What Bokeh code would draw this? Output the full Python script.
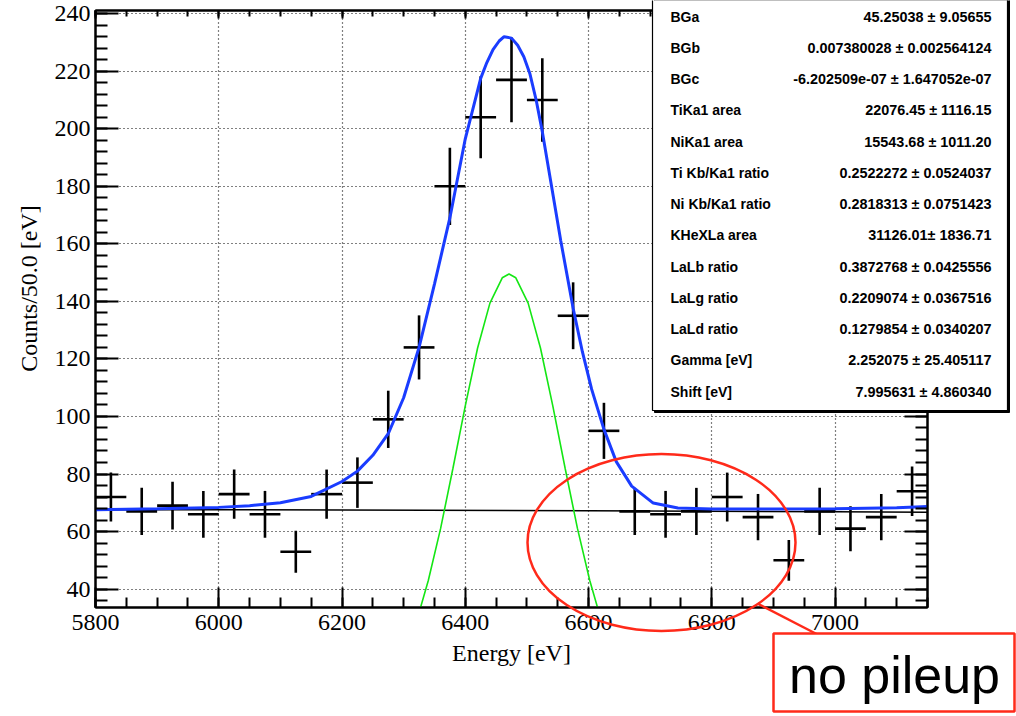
import numpy as np
from bokeh.plotting import figure
from bokeh.models import (Range1d, LinearAxis, SingleIntervalTicker, ColumnDataSource,
                          GridBox, CustomJSTickFormatter)
from bokeh.core.properties import value
from bokeh.embed import file_html
from bokeh.resources import INLINE

# ---------------- data ----------------
bin_centers = [5825, 5875, 5925, 5975, 6025, 6075, 6125, 6175, 6225, 6275, 6325, 6375, 6425,
               6475, 6525, 6575, 6625, 6675, 6725, 6775, 6825, 6875, 6925, 6975, 7025, 7075, 7125]
counts = [72, 67, 69, 66, 73, 66, 53, 73, 77, 99, 124, 180, 204,
          217, 210, 135, 95, 67, 66, 67, 72, 65, 50, 67, 61, 65, 74]
bin_width = 50

# total fit (blue)
fit_x = [5800, 5900, 6000, 6050, 6100, 6150, 6200, 6225, 6250, 6275, 6300, 6325, 6350, 6375,
         6400, 6425, 6435, 6445, 6455, 6463, 6475, 6485, 6495, 6505, 6515, 6525, 6540, 6555,
         6575, 6590, 6605, 6625, 6645, 6670, 6705, 6745, 6800, 6900, 7000, 7100, 7150]
fit_y = [67.6, 67.9, 68.4, 69.0, 70.0, 72.2, 77.4, 81.0, 86.5, 94.0, 106.5, 124.0, 146.0, 169.0,
         196.5, 217.5, 223.0, 227.5, 230.5, 232.0, 231.5, 229.0, 225.0, 219.0, 210.0, 199.0, 180.0, 161.0,
         137.6, 122.5, 109.5, 95.5, 84.3, 75.8, 69.9, 68.2, 67.8, 67.8, 67.9, 68.3, 68.7]

# background (black)
bg_x = [5800, 6200, 6600, 7000, 7150]
bg_y = [67.6, 67.5, 67.2, 66.9, 66.7]

# single peak component (green)
peak_x = [6325, 6340, 6360, 6380, 6400, 6420, 6440, 6460, 6471, 6482, 6502, 6522, 6542, 6562, 6582, 6602, 6617]
peak_y = [31.8, 43.0, 61.1, 82.0, 103.7, 123.8, 139.4, 148.2, 149.5, 148.2, 139.4, 123.8, 103.7, 82.0, 61.1, 43.0, 31.8]

stat_names = ["BGa", "BGb", "BGc", "TiKa1 area", "NiKa1 area", "Ti Kb/Ka1 ratio",
              "Ni Kb/Ka1 ratio", "KHeXLa area", "LaLb ratio", "LaLg ratio", "LaLd ratio",
              "Gamma [eV]", "Shift [eV]"]
stat_values = ["45.25038 \u00b1 9.05655", "0.007380028 \u00b1 0.002564124",
               "-6.202509e-07 \u00b1 1.647052e-07", "22076.45 \u00b1 1116.15",
               "15543.68 \u00b1 1011.20", "0.2522272 \u00b1 0.0524037",
               "0.2818313 \u00b1 0.0751423", "31126.01\u00b1 1836.71",
               "0.3872768 \u00b1 0.0425556", "0.2209074 \u00b1 0.0367516",
               "0.1279854 \u00b1 0.0340207", "2.252075 \u00b1 25.405117",
               "7.995631 \u00b1 4.860340"]

W, H = 1016, 716
SERIF = "Liberation Serif"
SANS = "Liberation Sans"
RED = "#ff2a1a"

# ---------------- main figure ----------------
p = figure(width=W, height=H, x_range=Range1d(5800, 7150), y_range=Range1d(33.6, 241.1),
           output_backend="svg", toolbar_location=None,
           min_border_left=95, min_border_right=89, min_border_top=10, min_border_bottom=109)
p.frame_align = False
p.background_fill_color = "white"
p.border_fill_color = "white"
p.outline_line_color = "black"
p.outline_line_width = 2

xt = SingleIntervalTicker(interval=200, num_minor_ticks=4)
yt = SingleIntervalTicker(interval=20, num_minor_ticks=5)
p.xaxis.ticker = xt
p.yaxis.ticker = yt
p.xgrid.ticker = xt
p.ygrid.ticker = yt
for g in (p.xgrid, p.ygrid):
    g.grid_line_color = "black"
    g.grid_line_dash = "1 3"
    g.grid_line_width = 1.2

for ax in (p.xaxis[0], p.yaxis[0]):
    ax.axis_line_width = 2
    ax.major_tick_out = 0
    ax.minor_tick_out = 0
    ax.major_tick_line_width = 2
    ax.minor_tick_line_width = 2
    ax.major_label_text_font = SERIF
    ax.major_label_text_font_size = "24px"
    ax.major_label_text_color = "black"
p.xaxis.major_tick_in = 20
p.xaxis.minor_tick_in = 10
p.yaxis.major_tick_in = 23
p.yaxis.minor_tick_in = 12
p.xaxis.major_label_standoff = 7
p.yaxis.major_label_standoff = 5
p.xaxis.axis_label = "Energy [eV]"
p.xaxis.axis_label_text_font = SERIF
p.xaxis.axis_label_text_font_size = "24px"
p.xaxis.axis_label_text_font_style = "normal"
p.xaxis.axis_label_text_color = "black"
p.xaxis.axis_label_standoff = 7

blank = CustomJSTickFormatter(code="return ''")
top = LinearAxis(ticker=SingleIntervalTicker(interval=200, num_minor_ticks=4), formatter=blank,
                 major_label_standoff=0,
                 major_tick_in=8, major_tick_out=0, minor_tick_in=6, minor_tick_out=0,
                 axis_line_width=2, major_tick_line_width=2, minor_tick_line_width=2)
p.add_layout(top, "above")
right = LinearAxis(ticker=SingleIntervalTicker(interval=20, num_minor_ticks=5), formatter=blank,
                   major_label_standoff=0,
                   major_tick_in=23, major_tick_out=0, minor_tick_in=12, minor_tick_out=0,
                   axis_line_width=2, major_tick_line_width=2, minor_tick_line_width=2)
p.add_layout(right, "right")

c = np.array(counts, dtype=float)
xc = np.array(bin_centers, dtype=float)
err = np.sqrt(c)
src = ColumnDataSource(dict(x=xc, y=c, lo=c - err, hi=c + err,
                            left=xc - bin_width / 2, right=xc + bin_width / 2))
p.segment(x0="x", y0="lo", x1="x", y1="hi", source=src, line_color="black", line_width=2.6)
p.segment(x0="left", y0="y", x1="right", y1="y", source=src, line_color="black", line_width=2.6)

p.line(bg_x, bg_y, line_color="black", line_width=1.5)
p.line(peak_x, peak_y, line_color="#14e614", line_width=1.6)
p.line(fit_x, fit_y, line_color="#1a3cff", line_width=3)

# ---------------- overlay (pixel coordinates, y downwards) ----------------
ov = figure(width=W, height=H, x_range=Range1d(0, W), y_range=Range1d(H, 0),
            output_backend="svg", toolbar_location=None,
            x_axis_location=None, y_axis_location=None,
            min_border=0, min_border_left=0, min_border_right=0, min_border_top=0, min_border_bottom=0)
ov.frame_align = False
ov.background_fill_alpha = 0
ov.border_fill_alpha = 0
ov.outline_line_color = None
ov.grid.visible = False

# y-axis title
ov.text(x=[28], y=[288], text=["Counts/50.0 [eV]"], angle=np.pi / 2,
        text_align="center", text_baseline="middle",
        text_font=value(SERIF), text_font_size="24px", text_color="black")

# stats box
ov.quad(left=[654], right=[1009], top=[-3], bottom=[412], fill_color="black", line_color="black")
ov.quad(left=[652], right=[1007], top=[-5], bottom=[410], fill_color="white",
        line_color="black", line_width=1.2)
rows_y = [16 + 31.25 * i for i in range(len(stat_names))]
ov.text(x=[670] * len(stat_names), y=rows_y, text=stat_names,
        text_font=value(SANS), text_font_size="14px", text_font_style="bold",
        text_align="left", text_baseline="middle", text_color="black")
ov.text(x=[991] * len(stat_values), y=rows_y, text=stat_values,
        text_font=value(SANS), text_font_size="14.4px", text_font_style="bold",
        text_align="right", text_baseline="middle", text_color="black")

# red annotation
ov.ellipse(x=[661], y=[542], width=[268], height=[177], fill_alpha=0,
           line_color=RED, line_width=2.5)
ov.segment(x0=[757], y0=[603], x1=[817], y1=[634], line_color=RED, line_width=2.5)
ov.quad(left=[773], right=[1014], top=[633], bottom=[711], fill_color="white",
        line_color=RED, line_width=2.5)
ov.text(x=[894], y=[674], text=["no pileup"], text_align="center", text_baseline="middle",
        text_font=value(SANS), text_font_size="52px", text_color="black")

layout = GridBox(children=[(p, 0, 0), (ov, 0, 0)])
open("out.html", "w").write(file_html(layout, INLINE))
